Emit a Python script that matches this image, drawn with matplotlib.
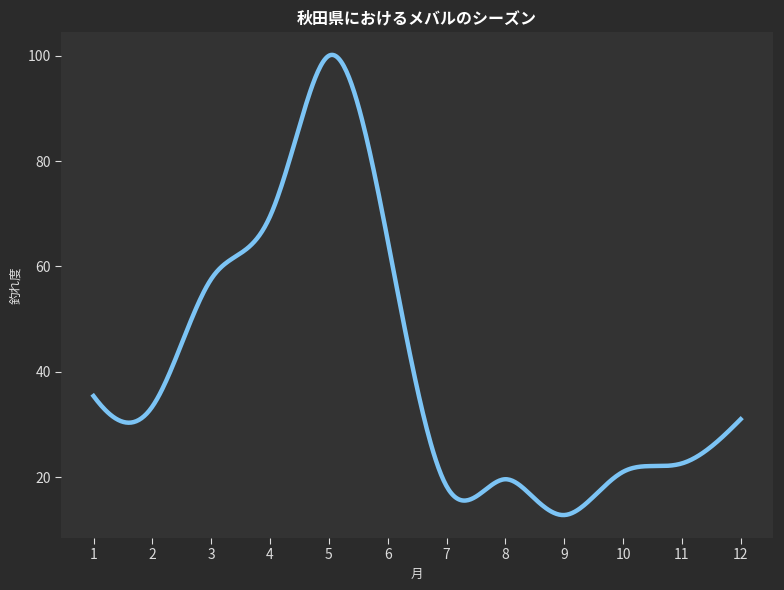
import numpy as np
import matplotlib
matplotlib.use('Agg')
import matplotlib.pyplot as plt

plt.rcParams['font.family'] = ['Noto Sans CJK JP', 'DejaVu Sans']

# catch index (half-month readings where the curve bends)
months = [1, 1.5, 2, 2.5, 3, 3.5, 4, 4.5, 5, 6,
          7, 7.5, 8, 8.5, 9, 9.5, 10, 10.5, 11, 11.5, 12]
catch_rate = [35.4, 30.5, 33.4, 45.4, 57.6, 62.5, 69.5, 86.6, 100.0, 65.0,
              18.3, 16.3, 19.6, 15.9, 12.8, 16.3, 21.0, 22.1, 22.6, 25.8, 31.0]
month_ticks = [1, 2, 3, 4, 5, 6, 7, 8, 9, 10, 11, 12]

TITLE = '秋田県におけるメバルのシーズン'
XLABEL = '月'
YLABEL = '釣れ度'


def not_a_knot_spline(x, y, xs):
    # cubic spline, not-a-knot ends (same as scipy make_interp_spline k=3)
    x = np.asarray(x, float)
    y = np.asarray(y, float)
    n = len(x)
    h = np.diff(x)
    A = np.zeros((n, n))
    b = np.zeros(n)
    for i in range(1, n - 1):
        A[i, i - 1] = h[i - 1]
        A[i, i] = 2 * (h[i - 1] + h[i])
        A[i, i + 1] = h[i]
        b[i] = 6 * ((y[i + 1] - y[i]) / h[i] - (y[i] - y[i - 1]) / h[i - 1])
    A[0, 0], A[0, 1], A[0, 2] = h[1], -(h[0] + h[1]), h[0]
    A[-1, -3], A[-1, -2], A[-1, -1] = h[-1], -(h[-2] + h[-1]), h[-2]
    M = np.linalg.solve(A, b)
    idx = np.clip(np.searchsorted(x, xs) - 1, 0, n - 2)
    hi = h[idx]
    t0 = x[idx + 1] - xs
    t1 = xs - x[idx]
    return (M[idx] * t0 ** 3 / (6 * hi) + M[idx + 1] * t1 ** 3 / (6 * hi)
            + (y[idx] / hi - M[idx] * hi / 6) * t0
            + (y[idx + 1] / hi - M[idx + 1] * hi / 6) * t1)


xs = np.linspace(min(months), max(months), 500)
ys = not_a_knot_spline(months, catch_rate, xs)

fig, ax = plt.subplots(figsize=(7.84, 5.90), dpi=100)
fig.patch.set_facecolor('#2b2b2b')
ax.set_facecolor('#333333')
fig.subplots_adjust(left=0.078, right=0.986, top=0.946, bottom=0.088)

ax.plot(xs, ys, color='#7cc4f5', linewidth=3.2)

ax.set_xticks(month_ticks)
ax.tick_params(colors='#dddddd', labelsize=10, length=4)
for s in ax.spines.values():
    s.set_visible(False)

ax.set_title(TITLE, color='white', fontsize=11.5, fontweight='bold', pad=6)
ax.set_xlabel(XLABEL, color='#dddddd', fontsize=9)
ax.set_ylabel(YLABEL, color='#dddddd', fontsize=9)

fig.savefig('out.png', dpi=100, facecolor=fig.get_facecolor())
